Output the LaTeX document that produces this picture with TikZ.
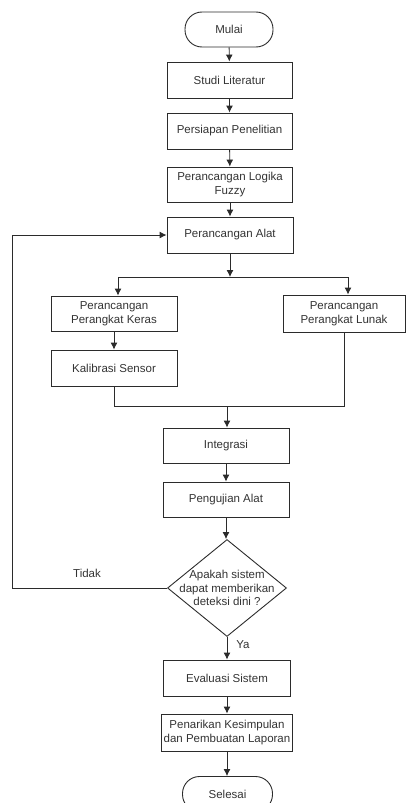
\documentclass[tikz,border=0pt]{standalone}
\usepackage{fontspec}
\setmainfont{Liberation Sans}
\usepackage{tikz}
\usetikzlibrary{shapes.geometric,arrows.meta}
\definecolor{garis}{HTML}{2B2B2B}
\definecolor{tulisan}{HTML}{333333}

\begin{document}
\begin{tikzpicture}
    [
      x=1pt, y=-1pt,
      every node/.style = {font=\fontsize{11.5}{13.5}\selectfont, text=tulisan},
      proses/.style = {draw=garis, line width=0.9pt, rectangle, align=center,
                       minimum width=126pt, minimum height=36pt, inner sep=1pt},
      terminal/.style = {draw=garis, line width=0.9pt, rectangle, rounded corners=17pt,
                         minimum width=88pt, minimum height=35pt},
      keputusan/.style = {draw=garis, line width=0.9pt, diamond, inner sep=0pt,
                          minimum width=119pt, minimum height=97pt},
      panah/.style = {draw=garis, line width=0.9pt, -{Latex[length=7pt,width=7pt]}},
      garis/.style = {draw=garis, line width=0.9pt}
    ]
    \useasboundingbox (0,0) rectangle (406,803);

    \node [terminal] (mulai) at (229,29.5) {Mulai};
    \node [proses, minimum width=125pt] (studi) at (229.5,80) {Studi Literatur};
    \node [proses, minimum width=125pt] (persiapan) at (229.5,131) {Persiapan Penelitian};
    \node [proses, minimum width=125pt, minimum height=35pt] (fuzzy) at (230,184.5)
        {Perancangan Logika\\Fuzzy};
    \node [proses] (alat) at (230,235) {Perancangan Alat};
    \node [proses, minimum height=35pt] (keras) at (114,313.5)
        {Perancangan\\Perangkat Keras};
    \node [proses, minimum width=122pt, minimum height=37pt] (lunak) at (344,313.5)
        {Perancangan\\Perangkat Lunak};
    \node [proses] (kalibrasi) at (114,368) {Kalibrasi Sensor};
    \node [proses, minimum height=35pt] (integrasi) at (226,445.5) {Integrasi};
    \node [proses, minimum height=35pt] (pengujian) at (226,499.5) {Pengujian Alat};
    \node [keputusan] (cek) at (227,588) {};
    \node [align=center] (tanya) at (cek) {Apakah sistem\\dapat memberikan\\deteksi dini ?};
    \node [proses, minimum width=127pt] (evaluasi) at (227,678) {Evaluasi Sistem};
    \node [proses, minimum width=131pt, minimum height=37pt] (penarikan) at (227,732.5)
        {Penarikan Kesimpulan\\dan Pembuatan Laporan};
    \node [terminal, minimum width=90pt] (selesai) at (227.5,794) {Selesai};

    % titik bantu
    \coordinate (cabang) at (alat.south |- 0,277);
    \coordinate (cabangkiri) at (118,277);
    \coordinate (cabangkanan) at (348,277);
    \coordinate (gabung) at (227,406);
    \coordinate (kiribawah) at (12,588);
    \coordinate (kiriatas) at (12,235);

    \draw [panah] (mulai) -- (studi);
    \draw [panah] (studi) -- (persiapan);
    \draw [panah] (persiapan) -- (fuzzy);
    \draw [panah] (fuzzy) -- (alat);
    \draw [panah] (alat) -- (cabang);
    \draw [garis] (cabangkiri) -- (cabangkanan);
    \draw [panah] (cabangkiri) -- (cabangkiri |- keras.north);
    \draw [panah] (cabangkanan) -- (cabangkanan |- lunak.north);
    \draw [panah] (keras) -- (kalibrasi);
    \draw [garis] (kalibrasi.south) -- (kalibrasi.south |- gabung) -- (lunak.south |- gabung) -- (lunak.south);
    \draw [panah] (gabung) -- (gabung |- integrasi.north);
    \draw [panah] (integrasi) -- (pengujian);
    \draw [panah] (pengujian.south) -- (pengujian.south |- cek.north);
    \draw [garis] (cek.west) -- (kiribawah) -- (kiriatas);
    \draw [panah] (kiriatas) -- (alat.west);
    \draw [panah] (cek.south) -- (cek.south |- evaluasi.north);
    \draw [panah] (evaluasi) -- (penarikan);
    \draw [panah] (penarikan.south) -- (penarikan.south |- selesai.north);

    \node (tidak) at (87,573) {Tidak};
    \node (ya) at (243,645) {Ya};
\end{tikzpicture}
\end{document}
